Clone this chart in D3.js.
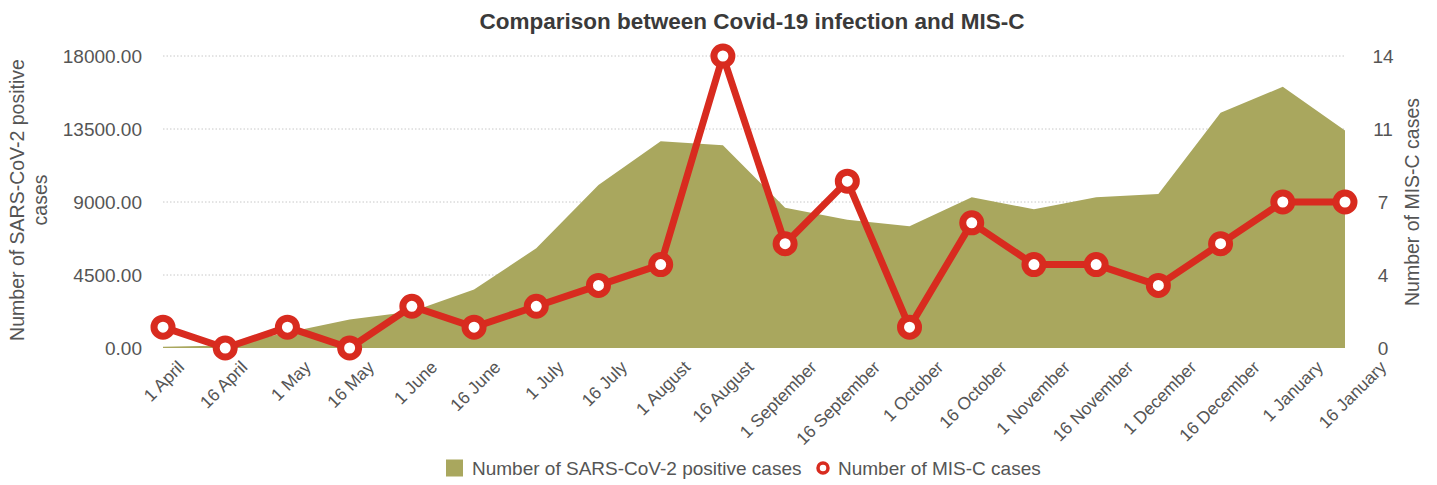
<!DOCTYPE html>
<html>
<head>
<meta charset="utf-8">
<script src="https://cdn.jsdelivr.net/npm/d3@7"></script>
<style>
  html, body { margin: 0; padding: 0; background: #fff; }
  svg { display: block; font-family: "Liberation Sans", Arial, Helvetica, sans-serif; }
</style>
</head>
<body>
<svg id="chart" width="1437" height="485"></svg>
<script>
// Half-monthly reporting dates
const categories = [
  "1 April", "16 April", "1 May", "16 May", "1 June", "16 June", "1 July", "16 July",
  "1 August", "16 August", "1 September", "16 September", "1 October", "16 October",
  "1 November", "16 November", "1 December", "16 December", "1 January", "16 January"
];

// SARS-CoV-2 positive cases (left axis)
const positiveCases = [
  80, 150, 950, 1750, 2250, 3600, 6150, 10050, 12750, 12500,
  8650, 7900, 7500, 9300, 8550, 9300, 9500, 14500, 16100, 13400
];

// MIS-C cases (right axis)
const misCases = [
  1, 0, 1, 0, 2, 1, 2, 3, 4, 14,
  5, 8, 1, 6, 4, 4, 3, 5, 7, 7
];

// Axis tick values
const leftTicks = [0, 4500, 9000, 13500, 18000];
const rightTicks = [0, 3.5, 7, 10.5, 14];

const titleText = "Comparison between Covid-19 infection and MIS-C";
const leftTitle = ["Number of SARS-CoV-2 positive", "cases"];
const rightTitle = "Number of MIS-C cases";
const legendLabels = ["Number of SARS-CoV-2 positive cases", "Number of MIS-C cases"];

const olive = "#a9a75e";
const red = "#d82b1f";
const textColor = "#555";

const svg = d3.select("#chart");
const plot = { left: 163, right: 1345, top: 56, bottom: 348 };

const x = d3.scalePoint().domain(categories).range([plot.left, plot.right]);
// rotated category labels sit slightly right of their data points
const xLabel = d3.scalePoint().domain(categories).range([plot.left + 18, plot.right + 38]);
const yLeft = d3.scaleLinear().domain([0, 18000]).range([plot.bottom, plot.top]);
const yRight = d3.scaleLinear().domain([0, 14]).range([plot.bottom, plot.top]);

// Title
svg.append("text")
  .attr("x", 752).attr("y", 29)
  .attr("text-anchor", "middle")
  .attr("font-size", 22.5).attr("font-weight", "bold")
  .attr("fill", "#3a3a3a")
  .text(titleText);

// Gridlines
svg.append("g")
  .selectAll("line")
  .data(leftTicks.filter(d => d > 0))
  .join("line")
  .attr("x1", plot.left).attr("x2", plot.right)
  .attr("y1", d => yLeft(d)).attr("y2", d => yLeft(d))
  .attr("stroke", "#c8c8c8").attr("stroke-width", 1)
  .attr("stroke-dasharray", "1.5,2");

// Area for positive cases
const area = d3.area()
  .x((d, i) => x(categories[i]))
  .y0(yLeft(0))
  .y1(d => yLeft(d));

svg.append("path")
  .datum(positiveCases)
  .attr("d", area)
  .attr("fill", olive);

// Left axis
const leftAxis = d3.axisLeft(yLeft).tickValues(leftTicks).tickFormat(d3.format(".2f")).tickSize(0).tickPadding(21);
const gl = svg.append("g").attr("transform", `translate(${plot.left},0)`).call(leftAxis);
gl.select(".domain").remove();
gl.selectAll("text").attr("font-size", 19).attr("fill", textColor).attr("font-family", "Liberation Sans, Arial, sans-serif");

// Right axis
const rightAxis = d3.axisRight(yRight).tickValues(rightTicks).tickFormat(d => Math.round(d)).tickSize(0).tickPadding(38);
const gr = svg.append("g").attr("transform", `translate(${plot.right},0)`).call(rightAxis);
gr.select(".domain").remove();
gr.selectAll("text").attr("font-size", 19).attr("fill", textColor)
  .attr("text-anchor", "middle").attr("font-family", "Liberation Sans, Arial, sans-serif");

// Category axis labels, rotated
const gx = svg.append("g");
gx.selectAll("text")
  .data(categories)
  .join("text")
  .attr("transform", d => `translate(${xLabel(d)},${plot.bottom + 16}) rotate(-45)`)
  .attr("text-anchor", "end")
  .attr("dy", "0.35em")
  .attr("font-size", 17.5)
  .attr("fill", textColor)
  .text(d => d);

// Left axis title
const lt = svg.append("text")
  .attr("transform", `translate(24,200) rotate(-90)`)
  .attr("text-anchor", "middle")
  .attr("font-size", 19.5).attr("fill", textColor);
lt.selectAll("tspan").data(leftTitle).join("tspan")
  .attr("x", 0).attr("dy", (d, i) => i === 0 ? 0 : 23)
  .text(d => d);

// Right axis title
svg.append("text")
  .attr("transform", `translate(1419,202) rotate(-90)`)
  .attr("text-anchor", "middle")
  .attr("font-size", 19.5).attr("fill", textColor)
  .text(rightTitle);

// MIS-C line
const line = d3.line()
  .x((d, i) => x(categories[i]))
  .y(d => yRight(d));

svg.append("path")
  .datum(misCases)
  .attr("d", line)
  .attr("fill", "none")
  .attr("stroke", red)
  .attr("stroke-width", 7)
  .attr("stroke-linejoin", "round");

svg.append("g")
  .selectAll("circle")
  .data(misCases)
  .join("circle")
  .attr("cx", (d, i) => x(categories[i]))
  .attr("cy", d => yRight(d))
  .attr("r", 9)
  .attr("fill", "#fff")
  .attr("stroke", red)
  .attr("stroke-width", 7);

// Legend
const legend = svg.append("g").attr("transform", "translate(0,468)");
legend.append("rect")
  .attr("x", 446).attr("y", -8.5).attr("width", 17).attr("height", 17)
  .attr("fill", olive);
legend.append("text")
  .attr("x", 472).attr("y", 0).attr("dy", "0.35em")
  .attr("font-size", 19).attr("fill", textColor)
  .text(legendLabels[0]);
legend.append("circle")
  .attr("cx", 823).attr("cy", 0).attr("r", 5)
  .attr("fill", "#fff").attr("stroke", red).attr("stroke-width", 3.5);
legend.append("text")
  .attr("x", 838).attr("y", 0).attr("dy", "0.35em")
  .attr("font-size", 19).attr("fill", textColor)
  .text(legendLabels[1]);
</script>
</body>
</html>
